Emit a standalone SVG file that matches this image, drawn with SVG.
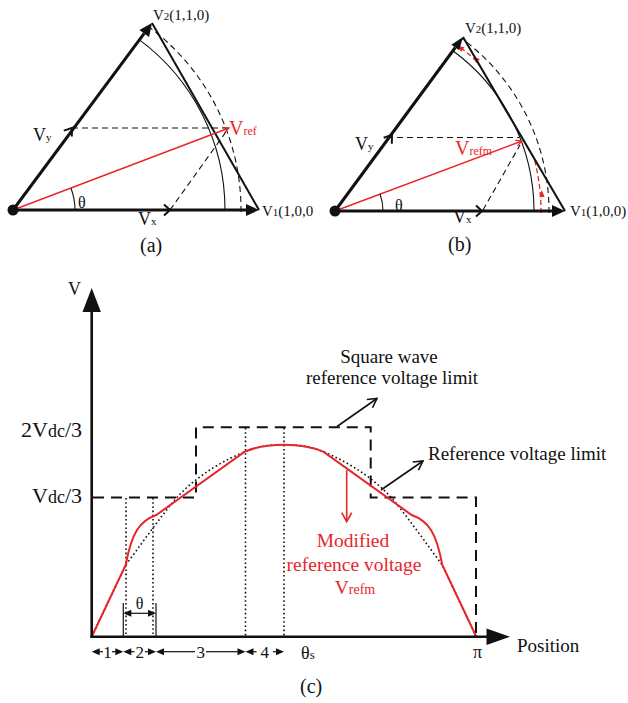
<svg xmlns="http://www.w3.org/2000/svg" width="628" height="703" viewBox="0 0 628 703">
<defs>
<style>
text{font-family:"Liberation Serif","Times New Roman",serif;fill:#111}
.red{fill:#e8262a}
.thick{stroke:#111;stroke-width:3;fill:none}
.edge{stroke:#111;stroke-width:2;fill:none}
.thin{stroke:#111;stroke-width:1.1;fill:none}
.dash{stroke:#111;stroke-width:1.1;fill:none;stroke-dasharray:6 4}
.rline{stroke:#e8262a;stroke-width:1.4;fill:none}
.rdash{stroke:#e8262a;stroke-width:1.3;fill:none;stroke-dasharray:5 3}
.head{fill:#111;stroke:none}
.rhead{fill:#e8262a;stroke:none}
.chev{stroke:#111;stroke-width:2;fill:none}
.axis{stroke:#111;stroke-width:2.6;fill:none}
.sq{stroke:#111;stroke-width:2;fill:none;stroke-dasharray:11 7}
.dot{stroke:#111;stroke-width:1.6;fill:none;stroke-dasharray:1.6 2.6}
.curve{stroke:#e8262a;stroke-width:2;fill:none}
.dim{stroke:#111;stroke-width:1.2;fill:none}
</style>
<marker id="open" viewBox="0 0 12 12" refX="11" refY="6" markerWidth="12" markerHeight="12" markerUnits="userSpaceOnUse" orient="auto">
<path d="M2,1 L11,6 L2,11" fill="none" stroke="#111" stroke-width="1.6"/>
</marker>
<marker id="openRed" viewBox="0 0 12 12" refX="11" refY="6" markerWidth="12" markerHeight="12" markerUnits="userSpaceOnUse" orient="auto">
<path d="M2,1 L11,6 L2,11" fill="none" stroke="#e8262a" stroke-width="1.6"/>
</marker>
<marker id="smallRed" viewBox="0 0 8 8" refX="7" refY="4" markerWidth="8" markerHeight="8" markerUnits="userSpaceOnUse" orient="auto">
<path d="M1,1 L7,4 L1,7" fill="none" stroke="#e8262a" stroke-width="1.2"/>
</marker>
</defs>
<rect width="628" height="703" fill="#fff"/>

<!-- Panel (a) -->
<g id="panel-a">
<g id="a-connectors">
<path class="thin" d="M225,210 A212,212 0 0 0 139.5,39.9"/>
<path class="dash" d="M241,212 A228,228 0 0 0 149,27"/>
<line class="edge" x1="259" y1="210" x2="152" y2="23"/>
<line class="thick" x1="13" y1="210" x2="144.2" y2="33.4"/>
<polygon class="head" points="152,23 149.1,37 139.4,29.9"/>
<line class="thick" x1="13" y1="210" x2="247" y2="210"/>
<polygon class="head" points="259,210 246,204 246,216"/>
<polyline class="chev" points="63.8,130.6 72,128 71.8,136.6"/>
<polyline class="chev" points="164,204.5 170,210 164,215.5"/>
<line class="dash" x1="72" y1="128" x2="228" y2="128"/>
<line class="dash" x1="170" y1="210" x2="228" y2="129"/>
<line class="rline" x1="13" y1="210" x2="229" y2="128" marker-end="url(#smallRed)"/>
<path class="thin" d="M75,210 A62,62 0 0 0 71,188.2"/>
<circle cx="13" cy="210" r="5.5" fill="#111"/>
</g>
<text x="153" y="20" font-size="15">V<tspan font-size="11">2</tspan>(1,1,0)</text>
<text x="262" y="216" font-size="15">V<tspan font-size="11">1</tspan>(1,0,0</text>
<text x="33" y="141" font-size="18">V<tspan font-size="11">y</tspan></text>
<text x="138" y="225" font-size="18">V<tspan font-size="11">x</tspan></text>
<text x="78" y="208" font-size="16">θ</text>
<text x="229" y="135" font-size="20" class="red">V<tspan font-size="12">ref</tspan></text>
<text x="140" y="252" font-size="20">(a)</text>
</g>

<!-- Panel (b) -->
<g id="panel-b">
<g id="b-connectors">
<path class="thin" d="M534,211 A199,199 0 0 0 452.9,50.7"/>
<path class="dash" d="M549,213 A214,214 0 0 0 461.8,38.6"/>
<path class="rdash" d="M541,213 L541,211 A206,206 0 0 0 534.2,158.5 L478.2,62.9 A206,206 0 0 0 457.1,45"/>
<polygon class="rhead" points="541.6,190 544.6,196.8 539.6,197.2"/>
<polygon class="rhead" points="473.5,57 479.9,58.9 476.1,63.2"/>
<polygon class="rhead" points="458,46 464.5,47.3 461.1,51.9"/>
<line class="edge" x1="565" y1="211" x2="463" y2="37"/>
<line class="thick" x1="335" y1="211" x2="455.3" y2="47.5"/>
<polygon class="head" points="463,37 459.2,50.3 451.4,44.7"/>
<line class="thick" x1="335" y1="211" x2="553" y2="211"/>
<polygon class="head" points="565,211 552,205 552,217"/>
<polyline class="chev" points="383.7,137.7 392,135 391.8,143.7"/>
<polyline class="chev" points="476,205.5 482,211 476,216.5"/>
<line class="dash" x1="397" y1="137.5" x2="519" y2="137.5"/>
<line class="dash" x1="483" y1="210" x2="520" y2="145"/>
<line class="rline" x1="335" y1="211" x2="522" y2="141" marker-end="url(#smallRed)"/>
<path class="thin" d="M383,211 A48,48 0 0 0 380,194"/>
<circle cx="335" cy="211" r="5.5" fill="#111"/>
</g>
<text x="465" y="33" font-size="15">V<tspan font-size="11">2</tspan>(1,1,0)</text>
<text x="570" y="216" font-size="15">V<tspan font-size="11">1</tspan>(1,0,0)</text>
<text x="355" y="150" font-size="18">V<tspan font-size="11">y</tspan></text>
<text x="453" y="223" font-size="18">V<tspan font-size="11">x</tspan></text>
<text x="395" y="211" font-size="16">θ</text>
<text x="455" y="155" font-size="20" class="red">V<tspan font-size="12">refm</tspan></text>
<text x="448" y="251" font-size="20">(b)</text>
</g>

<!-- Panel (c) -->
<g id="panel-c">
<g id="c-connectors">
<path class="sq" d="M93,497.5 H196 V427.3 H370.7 V497.5 H476 V636"/>
<line class="dot" x1="126" y1="498" x2="126" y2="636"/>
<line class="dot" x1="153" y1="498" x2="153" y2="636"/>
<line class="dot" x1="245.5" y1="428" x2="245.5" y2="636"/>
<line class="dot" x1="284" y1="428" x2="284" y2="636"/>
<path class="dot" d="M91.7,636.7 L125.7,565 C140,546 158,520 174.7,500 C190,482 215,464 244.7,451.7 C260,445.5 272,444.7 284,444.7 C296,444.7 308,445.5 323.3,451.7 C353,464 378,482 393.3,500 C410,520 428,546 442.3,565 L476.3,636.7"/>
<path class="curve" d="M91.7,636.7 L125.7,565 C128.5,550 132,538 137,530 C142,522 148,518 156.3,515 L244.7,451.7 C258,446 270,444.7 284,444.7 C298,444.7 310,446 323.3,451.7 L411.7,515 C420,518 426,522 431,530 C436,538 439.5,550 442.3,565 L476.3,636.7"/>
<line class="axis" x1="91.7" y1="638" x2="91.7" y2="310"/>
<polygon class="head" points="91.7,288 82.5,312 100.9,312"/>
<line class="axis" x1="90.4" y1="636.7" x2="488" y2="636.7"/>
<polygon class="head" points="510,636.7 486.5,628.5 486.5,644.9"/>
<line class="thin" x1="337" y1="426.5" x2="377" y2="398.5" marker-end="url(#open)" style="stroke-width:1.6"/>
<line class="thin" x1="381" y1="490" x2="423" y2="461" marker-end="url(#open)" style="stroke-width:1.6"/>
<line x1="346.7" y1="470" x2="346.7" y2="521.7" stroke="#e8262a" stroke-width="1.6" marker-end="url(#openRed)"/>
<line class="dim" x1="123.3" y1="603" x2="123.3" y2="636"/>
<line class="dim" x1="156" y1="603" x2="156" y2="636"/>
<line class="dim" x1="130" y1="613.3" x2="149" y2="613.3"/>
<polygon class="head" points="123.3,613.3 131.3,609.8 131.3,616.8"/>
<polygon class="head" points="156,613.3 148,609.8 148,616.8"/>
<g id="segments">
<line class="dim" x1="99" y1="651.7" x2="103" y2="651.7"/>
<line class="dim" x1="112" y1="651.7" x2="116" y2="651.7"/>
<polygon class="head" points="91.7,651.7 99.7,648.2 99.7,655.2"/>
<polygon class="head" points="123.3,651.7 115.3,648.2 115.3,655.2"/>
<line class="dim" x1="131" y1="651.7" x2="134.5" y2="651.7"/>
<line class="dim" x1="145" y1="651.7" x2="148.5" y2="651.7"/>
<polygon class="head" points="123.3,651.7 131.3,648.2 131.3,655.2"/>
<polygon class="head" points="156,651.7 148,648.2 148,655.2"/>
<line class="dim" x1="163" y1="651.7" x2="195" y2="651.7"/>
<line class="dim" x1="206" y1="651.7" x2="238" y2="651.7"/>
<polygon class="head" points="156,651.7 164,648.2 164,655.2"/>
<polygon class="head" points="245.5,651.7 237.5,648.2 237.5,655.2"/>
<line class="dim" x1="253" y1="651.7" x2="256.5" y2="651.7"/>
<line class="dim" x1="273" y1="651.7" x2="276.5" y2="651.7"/>
<polygon class="head" points="245.5,651.7 253.5,648.2 253.5,655.2"/>
<polygon class="head" points="284,651.7 276,648.2 276,655.2"/>
</g>
</g>
<text x="68" y="295" font-size="18">V</text>
<text x="82" y="437" font-size="22" text-anchor="end">2V<tspan font-size="18">dc</tspan>/3</text>
<text x="82" y="503" font-size="22" text-anchor="end">V<tspan font-size="18">dc</tspan>/3</text>
<text x="389" y="363" font-size="19" text-anchor="middle">Square wave</text>
<text x="392" y="384" font-size="19" text-anchor="middle">reference voltage limit</text>
<text x="428" y="460" font-size="19">Reference voltage limit</text>
<text x="353" y="547" font-size="19.5" text-anchor="middle" class="red">Modified</text>
<text x="354" y="571" font-size="19.5" text-anchor="middle" class="red">reference voltage</text>
<text x="355" y="594" font-size="19.5" text-anchor="middle" class="red">V<tspan font-size="14">refm</tspan></text>
<text x="517" y="652" font-size="19">Position</text>
<text x="473" y="658" font-size="18">π</text>
<text x="301" y="659" font-size="18">θ<tspan font-size="13">s</tspan></text>
<text x="139.6" y="609" font-size="16" text-anchor="middle">θ</text>
<text x="107.5" y="657.7" font-size="17" text-anchor="middle">1</text>
<text x="139.7" y="657.7" font-size="17" text-anchor="middle">2</text>
<text x="200.7" y="657.7" font-size="17" text-anchor="middle">3</text>
<text x="264.8" y="657.7" font-size="17" text-anchor="middle">4</text>
<text x="300" y="693" font-size="20">(c)</text>
</g>
</svg>
